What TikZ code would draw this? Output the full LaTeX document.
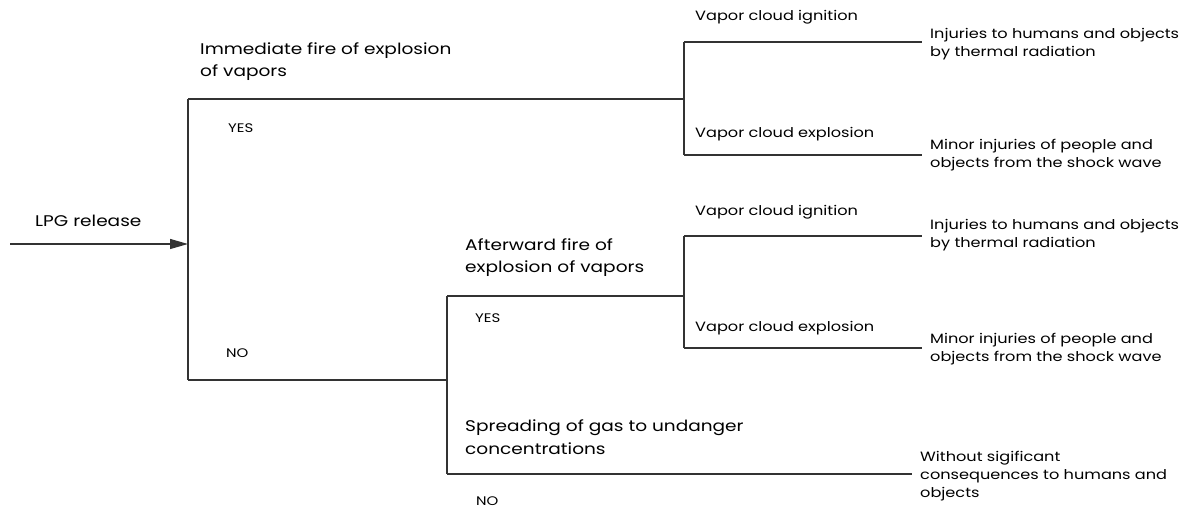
\documentclass[tikz,border=0pt]{standalone}
\usepackage{fontspec}
\setmainfont{Poppins}[FakeStretch=1.2]
\usetikzlibrary{arrows.meta}
\begin{document}
\begin{tikzpicture}[x=1bp,y=-1bp,
  ln/.style={draw=black!80, line width=1.3bp},
  big/.style={anchor=base west, inner sep=0pt, align=left, font=\fontsize{15.5}{23}\selectfont},
  sml/.style={anchor=base west, inner sep=0pt, align=left, font=\fontsize{13.5}{18.7}\selectfont},
  yn/.style={anchor=base west, inner sep=0pt, font=\fontsize{12.5}{14}\selectfont}]
\useasboundingbox (0,0) rectangle (1184,510);
% junctions
\coordinate (start) at (10,244);
\coordinate (J1) at (188,244);
\coordinate (J1t) at (188,99);
\coordinate (J1b) at (188,380);
\coordinate (J2) at (684,99);
\coordinate (J2t) at (684,42);
\coordinate (J2b) at (684,155);
\coordinate (E1) at (922,42);
\coordinate (E2) at (922,155);
\coordinate (J3) at (447,380);
\coordinate (J3t) at (447,296);
\coordinate (J3b) at (447,474);
\coordinate (J4) at (684,296);
\coordinate (J4t) at (684,236);
\coordinate (J4b) at (684,348);
\coordinate (E3) at (922,236);
\coordinate (E4) at (922,348);
\coordinate (E5) at (912,474);
% connectors
\draw[ln, -{Triangle[length=18bp,width=10bp]}] (start) -- (J1);
\draw[ln] (J1t) -- (J1b);
\draw[ln] (J1t) -- (J2);
\draw[ln] (J2t) -- (J2b);
\draw[ln] (J2t) -- (E1);
\draw[ln] (J2b) -- (E2);
\draw[ln] (J1b) -- (J3);
\draw[ln] (J3t) -- (J3b);
\draw[ln] (J3t) -- (J4);
\draw[ln] (J4t) -- (J4b);
\draw[ln] (J4t) -- (E3);
\draw[ln] (J4b) -- (E4);
\draw[ln] (J3b) -- (E5);
% labels (base = baseline of last line)
\node[big] (lpg) at (35,227) {LPG release};
\node[big] (imm) at (200,77) {Immediate fire of explosion\\of vapors};
\node[yn] (yes1) at (228,133) {YES};
\node[yn] (no1) at (226,358) {NO};
\node[sml] (vci1) at (695,21) {Vapor cloud ignition};
\node[sml] (vce1) at (695,138) {Vapor cloud explosion};
\node[sml] (inj1) at (930,57) {Injuries to humans and objects\\by thermal radiation};
\node[sml] (min1) at (930,168) {Minor injuries of people and\\objects from the shock wave};
\node[big] (aft) at (465,273) {Afterward fire of\\explosion of vapors};
\node[yn] (yes2) at (475,323) {YES};
\node[sml] (vci2) at (695,216) {Vapor cloud ignition};
\node[sml] (vce2) at (695,332) {Vapor cloud explosion};
\node[sml] (inj2) at (930,248) {Injuries to humans and objects\\by thermal radiation};
\node[sml] (min2) at (930,362) {Minor injuries of people and\\objects from the shock wave};
\node[big] (spr) at (465,454) {Spreading of gas to undanger\\concentrations};
\node[yn] (no2) at (476,505) {NO};
\node[sml, font=\fontsize{13.5}{18}\selectfont] (wo) at (920,497) {Without sigificant\\consequences to humans and\\objects};
\end{tikzpicture}
\end{document}
